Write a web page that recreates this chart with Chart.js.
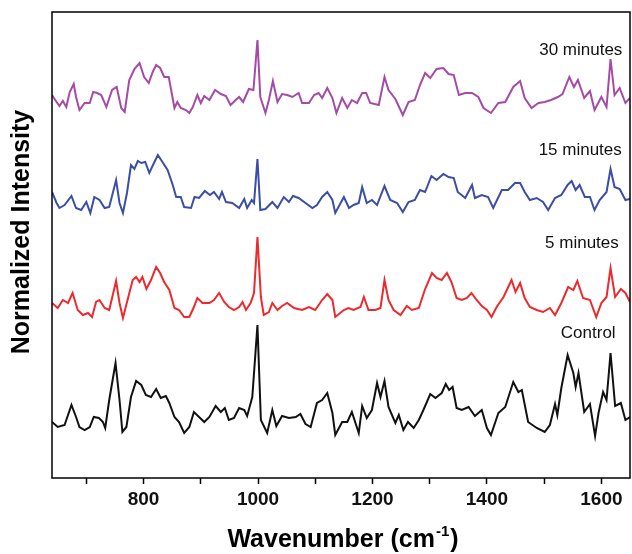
<!DOCTYPE html>
<html>
<head>
<meta charset="utf-8">
<script src="https://cdn.jsdelivr.net/npm/chart.js@4"></script>
<style>
  html, body { margin: 0; padding: 0; background: #fff; }
  #wrap { width: 632px; height: 554px; }
</style>
</head>
<body>
<div id="wrap"><canvas id="spectra" width="632" height="554"></canvas></div>
<script>
// Raman spectra, normalized intensity (stacked, arbitrary units)
const controlX = [640,650,662,674,682,688,697,706,713,722,729,733,740,751,758,763,770,778,787,796,804,813,822,830,839,845,854,862,871,880,888,897,906,915,926,935,942,949,958,967,976,981,990,999,1005,1016,1025,1032,1042,1054,1066,1074,1083,1092,1103,1112,1121,1130,1135,1147,1156,1164,1176,1182,1190,1199,1208,1214,1221,1228,1240,1246,1254,1262,1272,1281,1289,1301,1310,1321,1328,1334,1340,1347,1356,1368,1379,1391,1400,1407,1420,1432,1446,1455,1461,1472,1487,1501,1510,1519,1523,1530,1541,1551,1555,1560,1570,1580,1589,1595,1603,1609,1616,1624,1634,1642,1650];
const controlY = [0.56,0.51,0.53,0.73,0.61,0.51,0.48,0.51,0.61,0.60,0.56,0.50,0.78,1.15,0.78,0.46,0.51,0.81,0.97,0.93,0.83,0.81,0.89,0.80,0.82,0.75,0.61,0.56,0.45,0.51,0.66,0.61,0.56,0.61,0.72,0.66,0.70,0.58,0.60,0.70,0.68,0.62,0.81,1.53,0.58,0.45,0.68,0.52,0.62,0.60,0.61,0.64,0.54,0.51,0.75,0.78,0.85,0.65,0.43,0.56,0.56,0.66,0.45,0.72,0.60,0.68,0.95,0.81,0.97,0.71,0.55,0.63,0.48,0.56,0.50,0.58,0.68,0.84,0.80,0.85,0.94,0.88,0.91,0.70,0.68,0.71,0.62,0.68,0.50,0.43,0.65,0.71,0.96,0.86,0.88,0.56,0.50,0.46,0.53,0.74,0.63,0.90,1.23,1.05,0.91,1.05,0.66,0.74,0.42,0.65,0.86,0.78,1.25,0.72,0.75,0.58,0.61];

const min5X = [640,650,659,668,676,685,694,703,710,717,723,732,740,752,758,764,772,781,787,793,798,805,813,822,829,836,845,854,862,871,880,888,894,903,915,923,932,941,949,958,967,973,979,987,993,999,1005,1010,1019,1025,1034,1042,1051,1063,1077,1089,1100,1112,1121,1130,1135,1150,1158,1167,1179,1185,1193,1205,1214,1221,1228,1237,1249,1260,1269,1281,1292,1304,1312,1321,1330,1338,1347,1356,1365,1373,1382,1391,1400,1408,1417,1429,1443,1450,1458,1466,1475,1487,1498,1510,1519,1530,1542,1551,1558,1568,1580,1591,1600,1609,1616,1624,1634,1642,1650];
const min5Y = [1.75,1.70,1.78,1.75,1.85,1.68,1.63,1.65,1.61,1.76,1.78,1.70,1.68,1.97,1.75,1.60,1.78,1.98,2.01,1.96,2.01,1.89,1.98,2.11,2.05,1.96,1.88,1.70,1.68,1.61,1.61,1.71,1.80,1.75,1.75,1.78,1.85,1.76,1.71,1.68,1.71,1.76,1.68,1.75,1.85,2.41,1.81,1.63,1.66,1.75,1.68,1.72,1.75,1.70,1.68,1.71,1.68,1.78,1.84,1.78,1.61,1.68,1.70,1.68,1.71,1.81,1.68,1.68,1.70,1.98,1.78,1.68,1.63,1.72,1.68,1.70,1.89,2.05,2.00,1.98,2.05,1.96,1.80,1.78,1.80,1.85,1.78,1.72,1.68,1.61,1.71,1.81,1.98,1.86,1.95,1.80,1.71,1.68,1.66,1.70,1.63,1.75,1.91,1.88,1.97,1.80,1.78,1.61,1.75,1.81,2.10,1.81,1.89,1.85,1.76];

const min15X = [640,648,653,662,674,682,691,700,707,714,723,732,740,752,758,764,771,778,784,790,796,803,810,819,825,833,842,851,857,865,871,883,889,897,907,916,923,932,937,944,955,967,976,981,989,993,999,1004,1013,1025,1034,1045,1054,1061,1071,1083,1095,1103,1112,1121,1130,1135,1150,1159,1167,1176,1182,1190,1199,1208,1221,1231,1243,1253,1263,1274,1283,1292,1303,1312,1324,1333,1342,1349,1362,1374,1379,1391,1402,1411,1426,1437,1449,1458,1466,1475,1487,1498,1507,1519,1530,1541,1548,1555,1562,1571,1580,1588,1597,1609,1616,1623,1632,1642,1650];
const min15Y = [2.86,2.75,2.70,2.73,2.82,2.70,2.68,2.76,2.65,2.81,2.78,2.70,2.71,2.98,2.75,2.65,2.85,3.13,3.09,3.17,3.15,3.16,3.05,3.16,3.23,3.16,3.08,2.93,2.81,2.81,2.71,2.70,2.81,2.80,2.87,2.83,2.86,2.79,2.86,2.76,2.75,2.70,2.79,2.70,2.78,2.75,3.19,2.68,2.69,2.76,2.70,2.81,2.76,2.82,2.80,2.75,2.70,2.73,2.81,2.86,2.78,2.65,2.81,2.70,2.73,2.75,2.91,2.75,2.78,2.73,2.92,2.78,2.75,2.66,2.76,2.78,2.88,2.86,3.02,2.98,3.04,3.01,3.00,2.86,2.80,2.93,2.80,2.83,2.81,2.70,2.88,2.88,2.95,2.95,2.86,2.78,2.80,2.76,2.68,2.80,2.83,2.93,2.97,2.88,2.93,2.81,2.81,2.68,2.78,2.86,3.09,2.91,2.89,2.78,2.79];

const min30X = [640,648,653,659,665,671,678,682,688,697,706,712,719,726,735,745,753,761,767,775,784,793,801,809,816,822,829,836,844,854,859,865,874,880,886,894,900,906,915,925,935,944,952,961,967,974,984,992,999,1004,1013,1019,1026,1034,1042,1051,1060,1071,1077,1089,1098,1106,1112,1121,1130,1137,1147,1156,1164,1173,1182,1189,1196,1211,1221,1228,1240,1253,1263,1274,1283,1292,1301,1312,1324,1333,1342,1351,1362,1374,1385,1394,1407,1420,1432,1446,1458,1466,1478,1490,1501,1512,1524,1532,1544,1552,1559,1570,1580,1588,1600,1609,1616,1623,1632,1642,1650];
const min30Y = [3.83,3.76,3.72,3.77,3.71,3.86,3.94,3.81,3.68,3.75,3.75,3.86,3.85,3.83,3.71,3.88,3.91,3.70,3.66,3.98,4.09,4.15,4.01,3.95,4.06,4.13,4.10,4.01,4.01,3.70,3.76,3.70,3.68,3.65,3.71,3.83,3.75,3.82,3.78,3.88,3.84,3.82,3.73,3.78,3.81,3.76,3.89,3.88,4.38,3.81,3.65,3.78,3.97,3.76,3.84,3.83,3.81,3.85,3.75,3.75,3.83,3.85,3.80,3.90,3.80,3.65,3.80,3.70,3.78,3.75,3.85,3.85,3.75,3.73,4.01,3.88,3.79,3.63,3.76,3.78,3.93,4.05,4.00,4.09,4.10,4.04,4.03,3.83,3.85,3.85,3.81,3.70,3.65,3.75,3.76,3.91,3.97,3.80,3.70,3.75,3.76,3.78,3.81,3.84,4.01,3.91,3.98,3.80,3.87,3.68,3.81,3.71,4.19,3.83,3.90,3.75,3.80];

// trace labels: text, wavenumber, intensity
const labelText = ['30 minutes', '15 minutes', '5 minutes', 'Control'];
const labelX = [1564, 1563, 1566, 1577];
const labelY = [4.28, 3.28, 2.35, 1.45];

const xTicks = [700, 800, 900, 1000, 1100, 1200, 1300, 1400, 1500, 1600];

const FONT = "'Liberation Sans', Arial, Helvetica, sans-serif";

function pts(xs, ys) {
  let out = [];
  for (let i = 0; i < Math.min(xs.length, ys.length); i++) {
    out.push({ x: xs[i], y: ys[i] });
  }
  return out;
}

function series(name, xs, ys, color) {
  return {
    label: name,
    data: pts(xs, ys),
    borderColor: color,
    borderWidth: 2,
    pointRadius: 0,
    tension: 0,
    fill: false
  };
}

// box around plot + labels + axis titles
const decorations = {
  id: 'decorations',
  afterDraw(chart) {
    const ctx = chart.ctx;
    const a = chart.chartArea;
    const sx = chart.scales.x;
    const sy = chart.scales.y;
    ctx.save();
    ctx.strokeStyle = '#000';
    ctx.lineWidth = 1.5;
    ctx.strokeRect(a.left, a.top, a.right - a.left, a.bottom - a.top);

    ctx.fillStyle = '#111';
    ctx.font = '17px ' + FONT;
    ctx.textAlign = 'center';
    ctx.textBaseline = 'middle';
    for (let i = 0; i < labelText.length; i++) {
      ctx.fillText(labelText[i], sx.getPixelForValue(labelX[i]), sy.getPixelForValue(labelY[i]));
    }

    // y title
    ctx.fillStyle = '#000';
    ctx.font = 'bold 25px ' + FONT;
    ctx.save();
    ctx.translate(22, 232);
    ctx.rotate(-Math.PI / 2);
    ctx.fillText('Normalized Intensity', 0, 0);
    ctx.restore();

    // x title with superscript
    const main = 'Wavenumber (cm';
    const sup = '-1';
    const end = ')';
    ctx.font = 'bold 25px ' + FONT;
    const w1 = ctx.measureText(main).width;
    const w3 = ctx.measureText(end).width;
    ctx.font = 'bold 15px ' + FONT;
    const w2 = ctx.measureText(sup).width;
    let x0 = 342 - (w1 + w2 + w3) / 2;
    const base = 547;
    ctx.textAlign = 'left';
    ctx.textBaseline = 'alphabetic';
    ctx.font = 'bold 25px ' + FONT;
    ctx.fillText(main, x0, base);
    ctx.font = 'bold 15px ' + FONT;
    ctx.fillText(sup, x0 + w1 + 1, base - 11);
    ctx.font = 'bold 25px ' + FONT;
    ctx.fillText(end, x0 + w1 + w2 + 2, base);
    ctx.restore();
  }
};

let ctx = document.getElementById('spectra').getContext('2d');
let chart = new Chart(ctx, {
  type: 'line',
  data: {
    datasets: [
      series('Control', controlX, controlY, '#111111'),
      series('5 minutes', min5X, min5Y, '#ec2a2e'),
      series('15 minutes', min15X, min15Y, '#3b4ea5'),
      series('30 minutes', min30X, min30Y, '#a54ba6')
    ]
  },
  options: {
    responsive: false,
    animation: false,
    layout: { padding: { top: 12, right: 2, left: 0, bottom: 0 } },
    plugins: {
      legend: { display: false },
      tooltip: { enabled: false }
    },
    scales: {
      x: {
        type: 'linear',
        min: 640,
        max: 1650,
        afterFit: function (scale) { scale.height = 76; },
        afterBuildTicks: function (scale) {
          scale.ticks = xTicks.map(function (v) { return { value: v }; });
        },
        border: { display: false },
        grid: {
          display: true,
          drawOnChartArea: false,
          drawTicks: true,
          tickLength: 6,
          tickWidth: 1.5,
          tickColor: '#000'
        },
        ticks: {
          autoSkip: false,
          maxRotation: 0,
          padding: 4,
          color: '#111',
          font: { family: FONT, size: 19, weight: 'bold' },
          callback: function (v) { return v % 200 === 0 ? String(v) : ''; }
        }
      },
      y: {
        type: 'linear',
        min: 0,
        max: 4.66,
        afterFit: function (scale) { scale.width = 52; },
        border: { display: false },
        grid: { display: false },
        ticks: { display: false }
      }
    }
  },
  plugins: [decorations]
});
</script>
</body>
</html>
